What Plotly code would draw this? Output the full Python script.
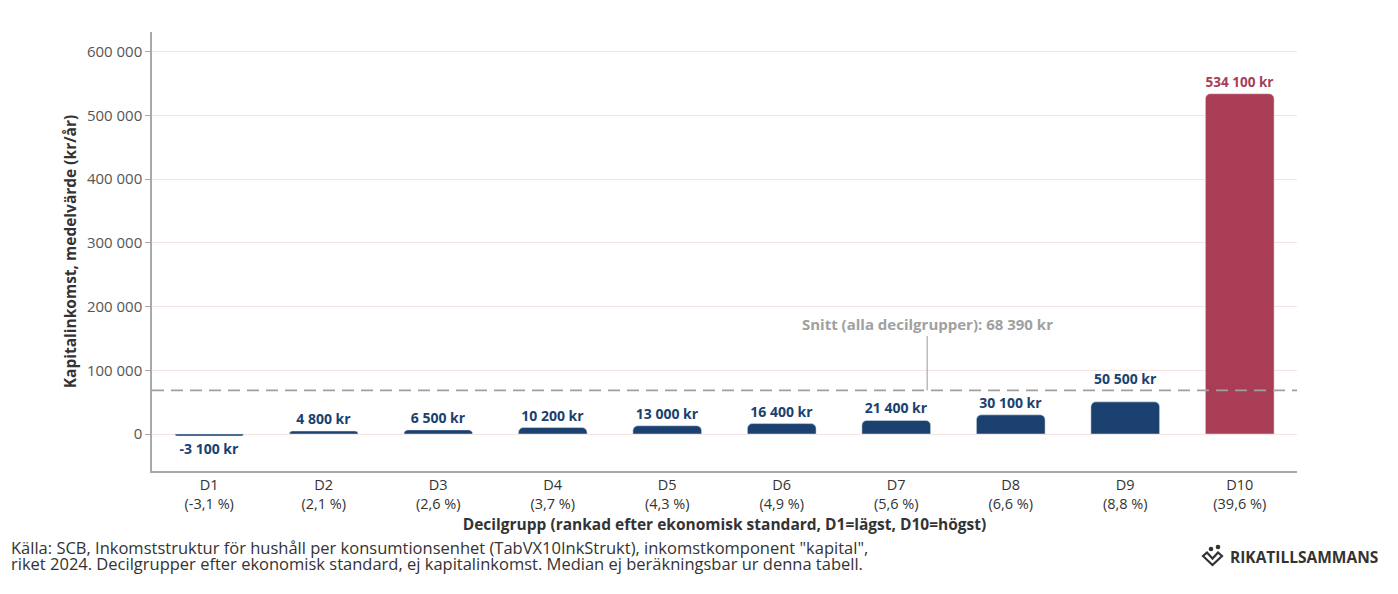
import plotly.graph_objects as go

# Kapitalinkomst per decilgrupp, riket 2024
deciles = ["D1", "D2", "D3", "D4", "D5", "D6", "D7", "D8", "D9", "D10"]
shares = ["-3,1", "2,1", "2,6", "3,7", "4,3", "4,9", "5,6", "6,6", "8,8", "39,6"]
values = [-3100, 4800, 6500, 10200, 13000, 16400, 21400, 30100, 50500, 534100]
mean_all = 68390
y_ticks = [0, 100000, 200000, 300000, 400000, 500000, 600000]

BLUE = "#1a4170"
RED = "#a93d55"
FONT = "Open Sans"
colors = [BLUE] * 9 + [RED]

tick_text = [f"{d}<br>({s} %)" for d, s in zip(deciles, shares)]
bar_text = [f"{v:,}".replace(",", " ") + " kr" for v in values]
# D9-etiketten lyfts ovanför snittlinjen, ritas separat
LIFTED = 8
bar_text_main = [t if i != LIFTED else "" for i, t in enumerate(bar_text)]

# figure is 1382x578 (page has 8px body margin); plot area in figure pixels
W, H = 1382, 578
L, R, T, B = 144, 93, 24, 115
PW, PH = W - L - R, H - T - B


def px(x):
    # page pixel -> paper x
    return (x - 8 - L) / PW


def py(y):
    # page pixel -> paper y
    return (H - B - (y - 8)) / PH


label_font = dict(family=FONT, size=14, weight="bold")

fig = go.Figure()
fig.add_trace(go.Bar(
    x=deciles,
    y=values,
    marker=dict(color=colors),
    width=0.6,
    text=bar_text_main,
    textposition="outside",
    textfont=dict(**label_font, color=colors),
    cliponaxis=False,
    hoverinfo="skip",
))
fig.add_annotation(
    x=deciles[LIFTED], y=values[LIFTED], xref="x", yref="y",
    text=bar_text[LIFTED], showarrow=False, yanchor="bottom", yshift=12,
    font=dict(**label_font, color=colors[LIFTED]),
)

# snittlinje
fig.add_shape(type="line", xref="paper", yref="y", x0=0, x1=1,
              y0=mean_all, y1=mean_all,
              line=dict(color="#a0a0a0", width=1.8, dash="12px,7px"))
fig.add_annotation(
    x=6.27, y=mean_all, xref="x", yref="y",
    text="<b>Snitt (alla decilgrupper): 68 390 kr</b>",
    showarrow=True, arrowhead=0, arrowwidth=1, arrowcolor="#9a9a9a",
    ax=0, ay=-66, font=dict(family=FONT, size=15, color="#a0a0a0"),
)

fig.update_layout(
    width=W, height=H,
    margin=dict(l=L, r=R, t=T, b=B),
    paper_bgcolor="white", plot_bgcolor="white",
    font=dict(family=FONT, size=14, color="#333333"),
    separators=", ",
    showlegend=False,
    barcornerradius=5,
    xaxis=dict(
        tickmode="array", tickvals=deciles, ticktext=tick_text,
        showline=True, linecolor="#a8a8a8", linewidth=1.5,
        showgrid=False, ticks="",
        tickfont=dict(size=14.5, color="#333333"),
        title=dict(text="<b>Decilgrupp (rankad efter ekonomisk standard, D1=lägst, D10=högst)</b>",
                   font=dict(size=15.5, color="#333333"), standoff=4),
    ),
    yaxis=dict(
        range=[-58000, 631000],
        tickvals=y_ticks, tickformat=",d",
        showline=True, linecolor="#a8a8a8", linewidth=1.5,
        gridcolor="#f5e3e3", gridwidth=1, zeroline=False,
        ticks="outside", ticklen=5, tickcolor="#a8a8a8",
        tickfont=dict(size=15, color="#555555"),
        title=dict(text="<b>Kapitalinkomst, medelvärde (kr/år)</b>",
                   font=dict(size=15.5, color="#333333"), standoff=6),
    ),
)

footer = [
    "Källa: SCB, Inkomststruktur för hushåll per konsumtionsenhet (TabVX10InkStrukt), "
    "inkomstkomponent \"kapital\",",
    "riket 2024. Decilgrupper efter ekonomisk standard, ej kapitalinkomst. "
    "Median ej beräkningsbar ur denna tabell.",
]
for i, line in enumerate(footer):
    fig.add_annotation(
        xref="paper", yref="paper", x=px(9), y=py(547 + 16 * i),
        xanchor="left", yanchor="middle", showarrow=False,
        text=line, font=dict(family=FONT, size=16.5, color="#333333"),
    )

# logotyp
fig.add_annotation(
    xref="paper", yref="paper", x=px(1380), y=py(557),
    xanchor="right", yanchor="middle", showarrow=False,
    text="<b>RIKATILLSAMMANS</b>",
    font=dict(family=FONT, size=15.5, color="#333333"),
)
for cx, cy in [(1211, 549), (1218, 547)]:
    fig.add_shape(type="circle", xref="paper", yref="paper",
                  x0=px(cx - 2.3), x1=px(cx + 2.3), y0=py(cy + 2.3), y1=py(cy - 2.3),
                  fillcolor="#333333", line_width=0)
icon = [(1203, 556), (1212.5, 565), (1222, 556), (1218, 552.5), (1212.5, 558.5), (1207, 552.5)]
path = "M " + " L ".join(f"{px(a)} {py(b)}" for a, b in icon) + " Z"
fig.add_shape(type="path", xref="paper", yref="paper", path=path,
              line=dict(color="#333333", width=2.2))

fig.write_html("out.html")
